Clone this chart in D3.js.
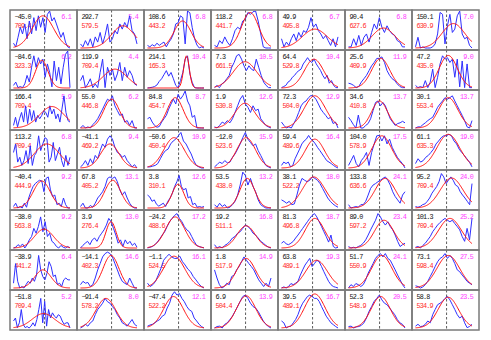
<!DOCTYPE html>
<html><head><meta charset="utf-8">
<script src="https://cdn.jsdelivr.net/npm/d3@7"></script>
<style>body{margin:0;background:#fff}svg{display:block}</style>
</head><body><svg id="c" width="491" height="340"></svg>
<script>
// Black labels (top-left), red labels (second line), magenta labels (top-right), row-major 8x7
const centerVals = [-45.0,292.7,108.6,118.2,49.9,90.4,150.1,
  -84.6,119.9,214.1,7.3,64.4,25.6,47.2,
  166.4,55.0,84.8,1.9,72.3,34.6,30.1,
  113.2,-41.1,-50.6,-12.0,59.4,104.0,61.1,
  -40.4,67.8,3.8,53.5,38.1,133.8,95.2,
  -38.0,3.9,-24.2,19.2,81.3,89.0,101.3,
  -38.9,-14.1,-1.1,1.8,63.8,51.7,73.1,
  -51.8,-91.4,-47.4,6.9,39.5,52.3,58.8];
const ampVals = [709.4,579.5,443.2,441.7,495.8,627.6,630.9,
  323.3,709.4,165.3,661.5,529.8,409.9,435.0,
  709.4,446.8,454.7,530.8,504.0,410.8,553.4,
  709.4,469.2,450.4,523.6,489.6,578.9,635.3,
  444.9,405.2,310.1,438.0,522.2,636.6,709.4,
  563.8,276.4,488.6,511.1,496.8,597.2,709.4,
  441.2,402.3,524.5,517.9,489.1,550.9,598.4,
  709.4,578.2,522.2,504.4,489.1,548.9,534.9];
const rightVals = [6.1,5.4,6.8,6.8,6.7,6.8,7.0,
  6.2,4.4,10.4,10.5,10.4,11.9,9.0,
  5.9,6.2,8.7,12.6,12.9,13.7,13.7,
  6.8,9.4,10.9,15.9,16.4,17.5,19.0,
  9.2,13.1,12.6,13.2,18.0,24.1,24.0,
  9.2,13.0,17.2,16.8,18.7,23.4,25.2,
  6.4,14.6,16.1,14.9,19.3,24.1,27.5,
  5.2,8.0,12.1,13.9,16.7,20.5,23.5];

// Histogram counts (relative height 0-10), one array per panel, by row
const row1 = [
 [1.3,0.3,2.9,5.6,3.8,6.5,2.5,7.3,3.8,8.2,4.7,8.7,5.6,8.2,4.2,9.1,10,7.3,8.2,6.5,4.7,2.9,4.2,1.6,0.3,0],
 [1.1,0.3,2,0.7,2.5,0.3,3,1.6,4.2,1.1,3.4,6.5,1.6,2.5,4.7,3.8,6.5,5.1,6.9,5.6,8.7,4.7,3.8,1.1],
 [0.7,0.3,0.9,0.5,1.3,0.7,1.2,1.6,0.3,1.5,2.4,3.8,6.5,6.8,8.7,8.2,1.1,10,9.5,5.5,2.5,0.8,0,0.3,0],
 [0.7,0.3,2,1.2,3,1.6,0.7,2.5,4.7,5.6,5.1,7.3,7.8,9.6,9.1,9.8,10,7.3,3.8,0.3,0,0,0],
 [2.5,0.3,1.6,0.7,2.5,3.8,2,4.2,2.9,4.7,4.2,5.6,8.2,5.6,6.5,4.7,3.8,2.5,3.4,2,0.7,2.5,0.3,3],
 [0.3,0.3,2.5,0.7,3.4,0.7,2.9,3.8,1.6,4.2,6.5,5.1,8.2,5.6,4.2,6,4.7,3.8,3.4,2,1.6,0.3,0.3],
 [0.3,2.9,0,0.3,0,0,0,0.3,1.1,3.8,9.6,9.1,1.1,6,9.1,4.2,5.1,8.7,10,3.8,2.5,2.9,0.7,0]];
const row2 = [
 [0.7,1.6,0.1,0.4,0.1,1.1,3.4,1.6,5.6,8.7,5.6,8.2,6.5,7.8,2.9,6.5,4.2,0.3,7.3,2,5.6,1.1,5.6,9.1,10,0.1],
 [2,3.4,0.1,1.1,2.5,0.1,1.1,0.1,4.2,7.8,0.1,5.6,3.4,5.1,2,3.8,6.9,2,5.6,2.9,4.7,3.4,1.1,0.7],
 [0,0.1,0.2,0.4,0.8,1.8,2.5,3.6,4.7,3.2,4.2,2.5,0.7,0.1,2,4.2,7.8,8.7,3.8,1.5,0.1,0,0,0,0],
 [0.1,0.7,0.1,1.1,1.6,2.5,3.4,5.6,6.9,8.7,9.1,7.8,6,4.7,6,5.1,4.7,7.8,5.6,3.4,1.6,0.7,0.1,0.1],
 [0.1,0.4,0.7,1.6,2,2.9,3.4,4.2,4.7,5.1,6.5,7.3,8.2,7.3,6.9,7.8,6.5,5.6,4.7,3.4,2.5,3.4,1.3,2,0.7,0.1,0.1],
 [1.3,1.1,0.7,0.1,0.4,1.6,2.5,3.4,4.7,6,6.9,8,8,8.4,6.9,4.7,3.4,2.5,2,1.1,0.4,0.1,0.1],
 [0.7,0.1,0.4,0.1,2,0.1,1.6,5.1,0.1,2.9,6.5,8.7,7.8,8.2,6.9,7.8,2.9,7.8,0.3,7.3,0.1,6.5,0.1,0.1]];
const row3 = [
 [0.7,2.9,0.3,2.5,4.2,1.6,6,1.2,5.1,2,4.7,1.6,3.4,2.5,3.4,4.7,4.2,2.9,6,3.8,5.1,2.5,3.8,1.6,5.1,8.7,4.2,2,1.6],
 [0,0.7,0,0.3,0,0.9,1.6,2.5,3.8,5.1,6.5,7.8,7.3,8.7,6,4.7,3.4,3.8,1.6,2,0.7,2,0,0],
 [2.5,2.9,1.6,0.7,0.2,0.4,1.6,2.5,3.4,5.1,6.5,7.8,6.5,9.1,7.8,8.7,10,7.3,6,2.9,3.4,0,0,0,0],
 [0.3,0,0.7,1.6,1.2,2,1.4,2.5,4.2,6,7.8,8.8,6.5,5.6,4.2,6,4.7,5.1,2.5,1.6,0.7,0.3,0],
 [1.6,0.7,0,0.3,0,1.2,2.5,4.2,6,6.9,7.3,8.2,8.8,8.5,7.8,6.5,5.1,4.2,3.4,2.5,2.9,1.2,1.6,0],
 [2.9,2,0.9,0,3.5,0,0,0.7,1.2,2.5,4.7,6.9,7.3,6,6.9,6,4.2,2.5,1.6,0.7,1.2,1.4,1.8,1.4],
 [0,0.3,0.3,0.9,1.4,2,2.5,2.9,4.2,5.6,6.5,7.3,8.2,7.8,8.2,8.7,7.3,6,4.7,3.4,2,0.3,0,2]];
const row4 = [
 [4.2,6.5,1.6,2.9,0.7,2,4.7,1.2,6,0.7,3.4,4.2,8.7,4.7,6.5,8.2,7.8,1.6,2.9,6.9,2,3.8,5.6,2,0.3,3.4,0.7,2.9],
 [0.3,0.9,2,0.7,2.5,1.2,3.4,2.5,4.7,6.5,5.6,7.8,8.7,7.8,5.6,4.2,3.8,2.9,3.4,2,1.2,0.3,0.9,0],
 [0.3,0.3,0.5,0.7,1.2,2.5,3.8,4.7,5.1,6.5,7.3,7.8,8.7,9.6,7.3,6.5,5.1,3.8,2,0.7,0.3,0,0],
 [0.3,0.9,1.6,1.2,2,1.4,1.6,2.9,3.8,5.1,6.5,8.2,9.6,7.8,6.9,6,6.5,4.7,3.4,2,0.7,0.3,0],
 [0.7,1.6,1.2,1.6,0.3,0.7,2.5,3.8,5.1,6.5,7.3,7.8,8.8,7.8,7.3,6.5,5.5,4.7,3.8,2.9,2,1.6,1.2,0.7,0.3,0],
 [0.7,2,3.4,1.2,0.3,2,2.9,4.2,0.7,4.2,6.5,8.7,8.8,7.3,8.7,6.5,7.8,5.6,4.2,2.9,2,1.2,0],
 [1.2,2.5,1.6,2,2.9,3.4,4.2,5.1,6.5,7.3,8.2,8.7,8.7,9.1,8.7,7.3,6.5,5.1,4.2,3.4,2.5,1.6,0.3]];
const row5 = [
 [0.4,1.3,0,0.4,0,1.3,0.2,2.7,4.4,5.8,6.6,7.1,7.5,7.3,4.4,8,8.4,4.9,3.1,3.5,0.9,1.3,0.4,2.7,0.9,0,0],
 [0.4,1.3,0,0,0.7,0.2,1.3,2.7,3.5,4.4,5.8,8,8.4,8,8.4,7.1,4.9,3.5,4.4,2.7,1.3,0.4,0,0],
 [3.5,3,1.8,2.2,1,0.5,0.9,1.3,0.4,1.8,2.7,4,5.8,7.1,8.8,5.8,4.9,5.3,2.7,3.1,0.9,1.3,0.2,0.4,0.2,0.4],
 [0.9,0.2,1.3,0.4,0.9,0,0.2,0.9,1.8,3.5,6.2,9.7,8.8,6.2,8,5.8,4.4,2.2,0.9,0.4,0,0,0],
 [2.2,1.8,1.3,1.8,0.9,1.1,3.5,6.2,8,7.5,7.1,7.5,8.4,8,7.5,6.6,5.3,4,2.7,1.8,1.1,0.6,0.2],
 [0.9,0,0.2,0.4,0.2,0.9,0.9,1.8,3.5,5.3,6.2,6.6,7.1,7.5,8,8.4,7.5,6.2,4.4,3.1,2.2,1.3,3.5,4.4],
 [0.4,0.2,0.4,0.9,1.1,1.8,2.7,4,4.9,5.8,7.1,9.3,8.4,6.6,7.5,8.4,7.5,6.2,5.8,4.4,3.5,2.7,1.8,0.9,6.6]];
const row6 = [
 [0,0.2,0.9,0.4,1.1,0,0.9,2.2,3.1,5.3,4,5.8,8.4,4.4,7.1,3.1,4,1.8,1.3,0.4,0,0.7,0.2,0,0.4,0],
 [0,0.7,1.3,1.8,0.9,2.2,2.7,1.8,3.1,4,4.9,6.2,8,7.1,5.3,3.5,1.3,2.2,0.4,2.2,1.1,1.8,0.7,1.3,0.2],
 [0,0.2,0.4,0.9,1.6,2.5,3.5,4.4,5.8,7.1,8,8.8,9.3,8,7.1,5.8,4.9,4.4,3.1,1.8,0.7,0.4,0.2,0],
 [0.9,0,0.4,0,0.7,1.1,1.8,2.7,3.1,4,4.4,5.3,6.2,5.8,5.1,4,3.5,2.7,1.8,1.3,0.7,0.2,0],
 [1.3,1.8,1.1,0.9,1.3,1.8,2.7,3.5,4.4,5.3,6.2,7.1,8,8.8,9.3,8.4,7.1,5.8,4.4,3.1,1.6,3.5,0.4,0,0.2],
 [0.4,0,0.2,0,0.4,0.7,1.3,2.2,3.5,4.9,6.2,7.5,9.3,8.4,7.1,6.2,7.1,5.8,4.9,3.5,1.8,0.4,0.9,1.3],
 [0.2,0.4,0,0.7,1.3,2.2,3.1,4.4,5.3,6.2,6.9,7.5,8,7.5,7.1,7.5,6.6,5.8,4.9,3.1,1.8,5.3,2.2,8]];
const row7 = [
 [1.3,6.6,1.8,0,0.4,0,0.9,1.8,1.3,2.7,1.8,3.5,8.8,4.9,3.1,2.2,4,7.1,5.8,3.1,3.5,0.9,1.3,0.4,2.2,2.7,2.2,2.2],
 [0.9,1.8,1.3,1.5,0.4,0.9,2.7,4.9,6.6,8.4,9.3,9.7,9.3,8.4,6.6,4.9,3.1,1.8,1.3,0.9,2.7,1.3,0,0],
 [1.3,0.4,0.9,1.8,3.5,5.3,7.5,8.4,9.1,8.4,8,8,8.6,7.1,6.2,5.1,4.4,3.1,2.2,1.2,0.4,0],
 [4.9,2.7,0.9,0,0.4,1.3,0.9,3.1,3.5,4.9,5.8,7.1,8.4,7.5,6.6,5.8,4.9,3.5,2.2,1.3,0.4,1.3,0.4,2.7],
 [0,0.3,0,0.4,1.2,0.9,1.3,1.8,3.5,4.9,6.2,7.1,8,5.8,6.6,7.5,7.1,5.8,4.4,3.1,1.8,0.9,0.4,0.2,0],
 [0,0.9,0.4,1.2,0.9,0.4,0.9,2.2,4,5.3,6.6,8,8.8,9.3,8.4,9.3,8,7.5,6.2,4.9,3.5,2.2,0.9,0],
 [0.6,0.4,0,0.3,0.9,1.8,3.1,4.4,5.8,7.1,8,8.4,9.3,8,8.8,8,6.6,4.9,4.4,3.5,2.7,1.8,1.3,0.9]];
const row8 = [
 [1.9,2.7,0.1,1.4,5,1,0.1,0.4,0,0.5,1.4,0.5,2.3,5,8,1.4,7.2,0.5,5,2.7,4.1,3.2,2.7,3.6,3.2,1.9,1,1.4,1.4,0],
 [0,0.4,1,0.5,1.4,1.9,3.6,5,5.8,6.7,8,7.1,6.7,5.8,5,3.6,2.7,1.4,1,0.5,1.4,2.3,1,0.5],
 [0.5,0.8,1,1.4,1.9,2.3,3.2,3.6,5.4,6.7,8.9,9.8,8.9,9.3,8,7.1,5.8,4.9,4.5,2.7,1.9,1,0.4,0],
 [0,0.4,0.5,0,1,1.4,2.3,3.2,4.5,5.8,7.2,8.5,8.9,8,6.7,5.8,5.4,4.5,3.2,1.9,1,0.4,0],
 [1.9,1.4,0,0.4,0.5,1.4,2.3,3.6,5.4,6.7,7.6,8.5,8.9,8.5,8,8,7.2,5.8,4.5,3.2,2.3,1.4,0.9,0.4,0],
 [0.4,0.5,0,0.3,0.4,0.7,1.4,2.7,4.5,5.8,7.2,8,8.9,7.6,6.7,6.3,5.4,4.5,3.6,2.3,1.4,1,0],
 [0.5,1,0.4,0.5,1,1.9,1.4,3.6,5,6.3,6.7,7.2,8,8.5,7.6,6.3,5,3.6,2.7,3.2,1.4,0.1,0.4,1]];

// Gaussian fit parameters (position 0-1 across panel, width, peak height)
const fitMu = [.52,.75,.62,.63,.59,.62,.67, .50,.61,.69,.54,.575,.57,.58,
  .68,.55,.49,.54,.59,.55,.58, .59,.52,.47,.56,.59,.59,.58,
  .50,.57,.54,.58,.57,.65,.64, .54,.54,.49,.56,.59,.63,.61,
  .52,.54,.47,.56,.62,.59,.58, .53,.45,.46,.56,.59,.57,.58];
const fitSigma = [.19,.20,.15,.15,.22,.20,.20, .11,.21,.05,.21,.17,.16,.16,
  .22,.14,.14,.18,.19,.14,.17, .22,.16,.18,.165,.17,.175,.20,
  .15,.14,.105,.13,.20,.18,.20, .17,.09,.17,.16,.17,.17,.20,
  .145,.14,.19,.165,.19,.18,.20, .20,.175,.175,.17,.18,.17,.18];
const fitPeak = [8.7,6.0,7.3,9.6,5.1,5.4,6.6, 7.5,5.1,8.7,7.1,7.8,8.0,8.8,
  5.8,7.8,8.2,6.7,8.7,7.3,8.2, 6.5,6.5,8.2,8.2,7.8,8.7,9.1,
  7.3,7.5,6.4,8.0,8.4,8.0,8.1, 5.1,7.1,8.4,6.0,8.0,7.5,8.0,
  4.9,8.8,8.6,8.0,7.5,8.8,8.8, 3.9,8.0,8.5,8.7,9.2,8.5,8.3];
const refLine = 0.55;

const counts = [].concat(row1,row2,row3,row4,row5,row6,row7,row8);
const nCols = 7, nRows = 8;
const svg = d3.select('#c');
const col = d3.scaleBand().domain(d3.range(nCols)).range([10, 479]);
const row = d3.scaleBand().domain(d3.range(nRows)).range([10, 330]);
const pw = col.bandwidth(), ph = row.bandwidth();
const xs = d3.scaleLinear().domain([0,1]).range([3.5, 60]);
const ys = d3.scaleLinear().domain([0,10]).range([38, 1]);
const fmt = d3.format('.1f');

const defs = svg.append('defs');
defs.append('clipPath').attr('id','pclip').append('rect')
  .attr('x',0).attr('y',0).attr('width',pw).attr('height',ph);

counts.forEach((vals, i) => {
  const r = Math.floor(i / nCols), c = i % nCols;
  const g = svg.append('g').attr('transform', `translate(${col(c)},${row(r)})`);
  const inner = g.append('g').attr('clip-path','url(#pclip)');
  inner.append('text').attr('x',4.5).attr('y',9).text(fmt(centerVals[i]))
    .attr('fill','#111');
  inner.append('text').attr('x',4.5).attr('y',17.5).text(fmt(ampVals[i]))
    .attr('fill','#ff2a2a');
  inner.append('text').attr('x',61).attr('y',9).attr('text-anchor','end')
    .text(fmt(rightVals[i])).attr('fill','#ff3cff');
  inner.append('line').attr('x1',xs(refLine)).attr('x2',xs(refLine))
    .attr('y1',0).attr('y2',ph).attr('stroke','#333').attr('stroke-width',0.8)
    .attr('stroke-dasharray','2.5,2');
  const n = vals.length;
  const line = d3.line().x((d,j)=>xs(j/(n-1))).y(d=>ys(d));
  inner.append('path').attr('d', line(vals)).attr('fill','none')
    .attr('stroke','#2f2fff').attr('stroke-width',1);
  const mu = fitMu[i], s = fitSigma[i], A = fitPeak[i];
  const ts = d3.range(0, 1.0001, 1/90);
  const fl = d3.line().x(t=>xs(t)).y(t=>ys(A*Math.exp(-(t-mu)*(t-mu)/(2*s*s))));
  inner.append('path').attr('d', fl(ts)).attr('fill','none')
    .attr('stroke','#ff1010').attr('stroke-width',1);
  g.append('rect').attr('width',pw).attr('height',ph).attr('fill','none')
    .attr('stroke','#7a7a7a').attr('stroke-width',1.5);
});
svg.selectAll('text').attr('font-family','"Liberation Mono", monospace')
  .attr('font-size', 6.8).attr('letter-spacing', -0.8);
</script>
</body></html>
